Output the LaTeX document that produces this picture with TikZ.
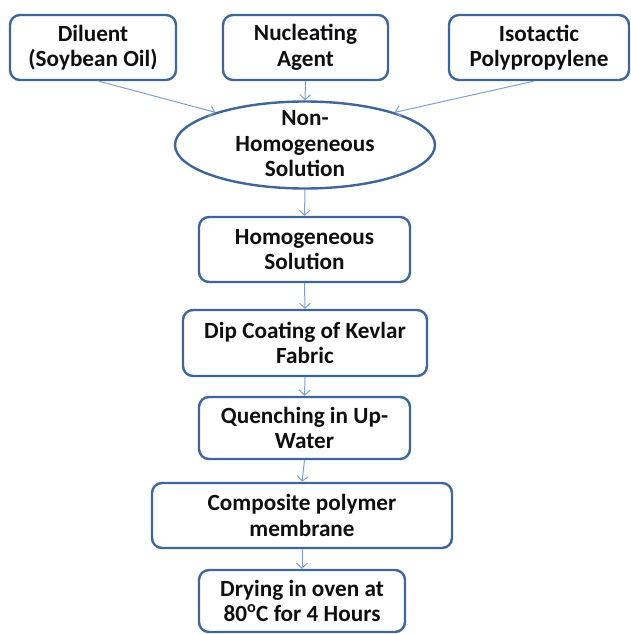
\documentclass[tikz,border=0pt]{standalone}
\usepackage{fontspec}
\setmainfont{Carlito}
\usetikzlibrary{arrows.meta,shapes.geometric}
\definecolor{boxblue}{RGB}{62,102,152}
\definecolor{arrblue}{RGB}{125,160,210}
\definecolor{txtcol}{RGB}{15,15,15}
\begin{document}
\begin{tikzpicture}[x=1pt,y=-1pt,
  lbl/.style={align=center, text=txtcol, font=\fontsize{23.2}{25.5}\selectfont\bfseries, inner sep=0pt},
  box/.style={lbl, draw=boxblue, line width=2.4pt, rounded corners=10pt, fill=white},
  oval/.style={ellipse, draw=boxblue, line width=2.4pt, fill=white, inner sep=0pt},
  arr/.style={draw=arrblue, line width=1pt, -{Straight Barb[length=5pt,width=11pt]}}]
\useasboundingbox (0,0) rectangle (631,634);
\node[box, minimum width=166pt, minimum height=65pt] (b1) at (93,47.5) {Diluent\\(Soybean Oil)};
\node[box, minimum width=165pt, minimum height=65pt] (b2) at (305.5,47.5) {Nucleating\\Agent};
\node[box, minimum width=180pt, minimum height=65pt] (b3) at (539,47.5) {Isotactic\\Polypropylene};
\node[oval, minimum width=260pt, minimum height=87pt] (el) at (305,145) {};
\node[lbl] (elt) at (305,144) {Non-\\Homogeneous\\Solution};
\node[box, minimum width=211pt, minimum height=65pt] (h) at (304.5,249.5) {Homogeneous\\Solution};
\node[box, minimum width=244pt, minimum height=66pt] (d) at (305,343) {Dip Coating of Kevlar\\Fabric};
\node[box, minimum width=211pt, minimum height=62pt] (q) at (304.5,428) {Quenching in Up-\\Water};
\node[box, minimum width=300pt, minimum height=65pt] (c) at (302,515.5) {Composite polymer\\membrane};
\node[box, minimum width=206pt, minimum height=62pt] (dr) at (302,601) {Drying in oven at\\80\textsuperscript{o}C for 4 Hours};
\draw[arr] (b1.-80) -- (el.160);
\draw[arr] (b2.south) -- (el.north);
\draw[arr] (b3.-99) -- (el.20);
\draw[arr] (el.south) -- (h.north);
\draw[arr] (h.south) -- (d.north);
\draw[arr] (d.south) -- (q.north);
\draw[arr] (q.south) -- (c.north);
\draw[arr] (c.south) -- (dr.north);
\end{tikzpicture}
\end{document}
